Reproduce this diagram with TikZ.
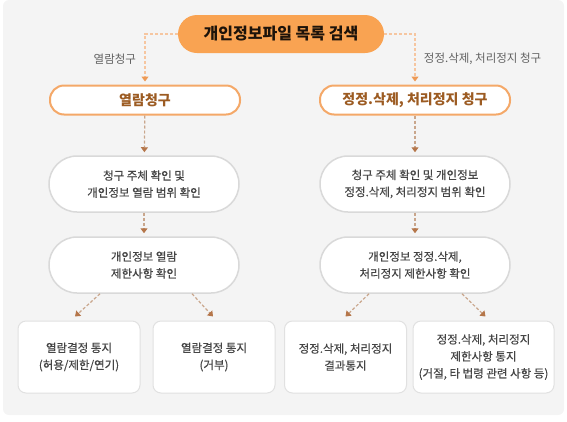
\documentclass[tikz,border=0pt]{standalone}
\usepackage{fontspec}
\setmainfont{Noto Sans CJK KR}
\newfontfamily\medfont[FakeBold=0.4]{Noto Sans CJK KR}
\usetikzlibrary{arrows.meta}
\usetikzlibrary{calc}

\definecolor{bggray}{HTML}{F4F4F4}
\definecolor{mainorange}{HTML}{F9A352}
\definecolor{lineorange}{HTML}{F4A868}
\definecolor{reqbrown}{HTML}{9C5B22}
\definecolor{boxgray}{HTML}{D9D9D9}
\definecolor{txtgray}{HTML}{454545}
\definecolor{dashlight}{HTML}{F6C6A0}
\definecolor{tiporange}{HTML}{EE9A55}
\definecolor{dashbrown}{HTML}{C9A68C}
\definecolor{tipbrown}{HTML}{B5764A}

\begin{document}
\begin{tikzpicture}[
  x=1pt,y=-1pt,
  >={Triangle[width=7pt,length=5pt]},
  search/.style={rectangle,rounded corners=19pt,fill=mainorange,minimum width=206pt,minimum height=38pt,
    font=\fontsize{16}{18}\selectfont\bfseries,text=black!85!brown},
  req/.style={rectangle,rounded corners=14pt,draw=lineorange,line width=2pt,fill=white,minimum width=190pt,
    minimum height=29pt,font=\fontsize{14}{16}\selectfont\bfseries,text=reqbrown},
  chk/.style={rectangle,rounded corners=28pt,draw=boxgray,line width=1.5pt,fill=white,minimum width=190pt,
    minimum height=56pt,align=center,font=\medfont\fontsize{11.5}{17}\selectfont,text=txtgray},
  res/.style={rectangle,rounded corners=8pt,draw=boxgray!80,line width=1pt,fill=white,minimum width=122pt,
    minimum height=72pt,align=center,font=\medfont\fontsize{11.5}{17}\selectfont,text=txtgray},
  lbl/.style={font=\fontsize{11.5}{13}\selectfont,text=txtgray!85},
  toplink/.style={-{Triangle[width=7pt,length=5pt,color=tiporange,fill=tiporange]},
    dash pattern=on 3pt off 2pt,line width=1.2pt,draw=dashlight,shorten >=3pt},
  link/.style={-{Triangle[width=7pt,length=5pt,color=tipbrown,fill=tipbrown]},
    dash pattern=on 3pt off 2pt,line width=1.2pt,draw=dashbrown,shorten >=3pt}
]
  \useasboundingbox (0,0) rectangle (567,421);
  \fill[bggray,rounded corners=6pt] (3,0) rectangle (564,415);

  \node[search](find) at (281,34){개인정보파일 목록 검색};

  \node[req](req1) at (145,100){열람청구};
  \node[req](req2) at (415,100){정정.삭제, 처리정지 청구};

  \node[chk](chk1a) at (144,184){청구 주체 확인 및\\개인정보 열람 범위 확인};
  \node[chk](chk2a) at (415,184){청구 주체 확인 및 개인정보\\정정.삭제, 처리정지 범위 확인};
  \node[chk](chk1b) at (144,265){개인정보 열람\\제한사항 확인};
  \node[chk](chk2b) at (415,265){개인정보 정정.삭제,\\처리정지 제한사항 확인};

  \node[res](res1) at (79,357){열람결정 통지\\(허용/제한/연기)};
  \node[res](res2) at (214,357){열람결정 통지\\(거부)};
  \node[res](res3) at (345.5,357){정정.삭제, 처리정지\\결과통지};
  \node[res,minimum width=141pt](res4) at (483.5,357){정정.삭제, 처리정지\\제한사항 통지\\(거절, 타 법령 관련 사항 등)};

  \draw[toplink] (find.west) -| node[lbl,pos=0.75,left=5pt]{열람청구} (req1.north);
  \draw[toplink] (find.east) -| node[lbl,pos=0.75,right=5pt]{정정.삭제, 처리정지 청구} (req2.north);

  \path[link]
    (req1) edge (chk1a)
    (chk1a) edge (chk1b)
    (req2) edge (chk2a)
    (chk2a) edge (chk2b)
  ;
  \draw[link,shorten >=0pt] ($(chk1b.south)+(-44,0)$) -- ($(res1.north)+(-4,-4)$);
  \draw[link,shorten >=0pt] ($(chk1b.south)+(48,0)$) -- ($(res2.north)+(-1,-4)$);
  \draw[link,shorten >=0pt] ($(chk2b.south)+(-46,0)$) -- ($(res3.north)+(0,-4)$);
  \draw[link,shorten >=0pt] ($(chk2b.south)+(47,0)$) -- ($(res4.north)+(2,-4)$);
\end{tikzpicture}
\end{document}
